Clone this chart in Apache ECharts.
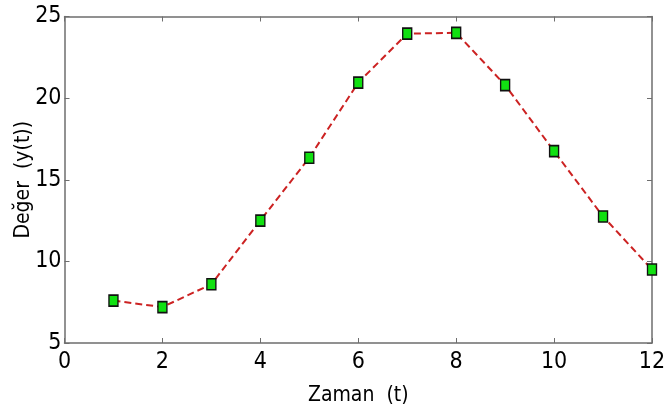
<!DOCTYPE html>
<html><head><meta charset="utf-8">
<script src="https://cdn.jsdelivr.net/npm/echarts@6/dist/echarts.min.js"></script>
<style>html,body{margin:0;padding:0;background:#fff}#c{width:664px;height:412px}</style>
</head><body><div id="c"></div>
<script>
const xValues = [1,2,3,4,5,6,7,8,9,10,11,12];
const yValues = [7.6,7.2,8.6,12.5,16.35,20.95,23.95,24.0,20.8,16.75,12.75,9.5];
const xLabel = 'Zaman  (t)';
const yLabel = 'Değer  (y(t))';
const FONT = "'DejaVu Sans Condensed', 'Liberation Sans', Arial, sans-serif";
const axisColor = '#6e6e6e';
const chart = echarts.init(document.getElementById('c'), null, {renderer:'canvas'});
const common = {
  axisLine:{show:true, onZero:false, lineStyle:{color:axisColor, width:1.5}},
  axisTick:{show:true, inside:true, length:5, lineStyle:{color:axisColor}},
  splitLine:{show:false}
};
chart.setOption({
  animation:false,
  backgroundColor:'#fff',
  grid:{left:64.5, right:12, top:16.5, bottom:69, containLabel:false, outerBoundsMode:'none'},
  xAxis:[
    Object.assign({type:'value', min:0, max:12, interval:2, position:'bottom',
      name:xLabel, nameLocation:'middle', nameGap:42, nameMoveOverlap:false,
      nameTextStyle:{fontFamily:FONT, fontSize:21, color:'#000'},
      axisLabel:{fontFamily:FONT, fontSize:23, color:'#000', margin:8}}, common),
    Object.assign({type:'value', min:0, max:12, interval:2, position:'top', axisLabel:{show:false}}, common)
  ],
  yAxis:[
    Object.assign({type:'value', min:5, max:25, interval:5, position:'left',
      name:yLabel, nameLocation:'middle', nameGap:30, nameMoveOverlap:false,
      nameTextStyle:{fontFamily:FONT, fontSize:21, color:'#000'},
      axisLabel:{fontFamily:FONT, fontSize:23, color:'#000', margin:3}}, common),
    Object.assign({type:'value', min:5, max:25, interval:5, position:'right', axisLabel:{show:false}}, common)
  ],
  series:[{
    type:'line',
    data:xValues.map((x,i)=>[x,yValues[i]]),
    symbol:'rect', symbolSize:[9,11],
    itemStyle:{color:'#11e011', borderColor:'#111', borderWidth:1.5},
    lineStyle:{color:'#cc2222', width:2, type:[7,4]},
    clip:false
  }]
});
</script></body></html>
